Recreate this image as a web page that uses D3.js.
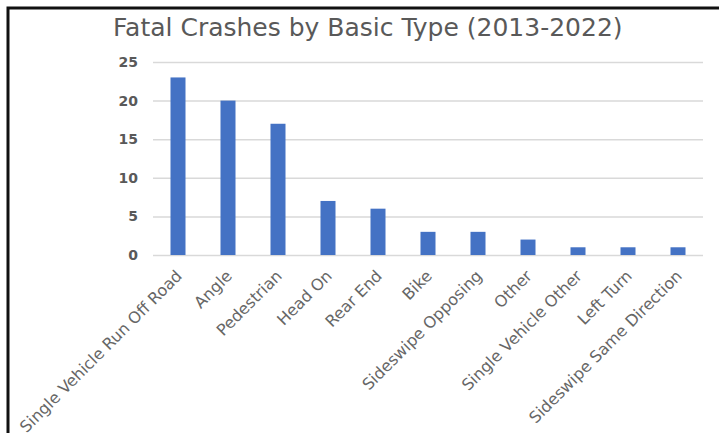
<!DOCTYPE html>
<html>
<head>
<meta charset="utf-8">
<script src="https://cdn.jsdelivr.net/npm/d3@7"></script>
<style>
  html, body { margin: 0; padding: 0; background: #fff; }
  svg { display: block; }
</style>
</head>
<body>
<script>
const categories = ["Single Vehicle Run Off Road", "Angle", "Pedestrian", "Head On", "Rear End", "Bike",
  "Sideswipe Opposing", "Other", "Single Vehicle Other", "Left Turn", "Sideswipe Same Direction"];
const values = [23, 20, 17, 7, 6, 3, 3, 2, 1, 1, 1];
const yTicks = [0, 5, 10, 15, 20, 25];
const title = "Fatal Crashes by Basic Type (2013-2022)";

const W = 719, H = 433;
const svg = d3.select("body").append("svg").attr("width", W).attr("height", H);
svg.append("rect").attr("width", W).attr("height", H).attr("fill", "#fff");

// frame
svg.append("path").attr("d", `M8,${H} V8 H${W}`).attr("fill", "none")
  .attr("stroke", "#111").attr("stroke-width", 3);

const x = d3.scaleBand().domain(categories).range([153, 703]).paddingInner(0.7).paddingOuter(0.35);
const y = d3.scaleLinear().domain([0, 25]).range([255, 62]);

const font = "'DejaVu Sans', Verdana, sans-serif";
const grey = "#595959";

svg.append("text").attr("x", 113).attr("y", 36).attr("font-family", font).attr("font-size", 25)
  .attr("fill", grey).text(title);

// gridlines
const yAxis = d3.axisLeft(y).tickValues(yTicks).tickSize(-(703 - 153)).tickPadding(15);
const gy = svg.append("g").attr("transform", "translate(153,0)").call(yAxis);
gy.select(".domain").remove();
gy.selectAll(".tick line").attr("stroke", "#d9d9d9").attr("stroke-width", 1.5);
gy.selectAll(".tick text").attr("font-family", font).attr("font-size", 14).attr("font-weight", "bold")
  .attr("fill", grey);

// bars
svg.append("g").selectAll("rect").data(values).join("rect")
  .attr("x", (d, i) => x(categories[i]))
  .attr("width", x.bandwidth())
  .attr("y", d => y(d))
  .attr("height", d => y(0) - y(d))
  .attr("fill", "#4472C4");

// x labels
const xAxis = d3.axisBottom(x).tickSize(0).tickPadding(0);
const gx = svg.append("g").attr("transform", "translate(0,255)").call(xAxis);
gx.select(".domain").remove();
gx.selectAll(".tick text")
  .attr("font-family", font).attr("font-size", 16).attr("fill", "#666")
  .attr("text-anchor", "end").attr("dy", 0).attr("y", 0)
  .attr("transform", "translate(5,22) rotate(-45)");
</script>
</body>
</html>
